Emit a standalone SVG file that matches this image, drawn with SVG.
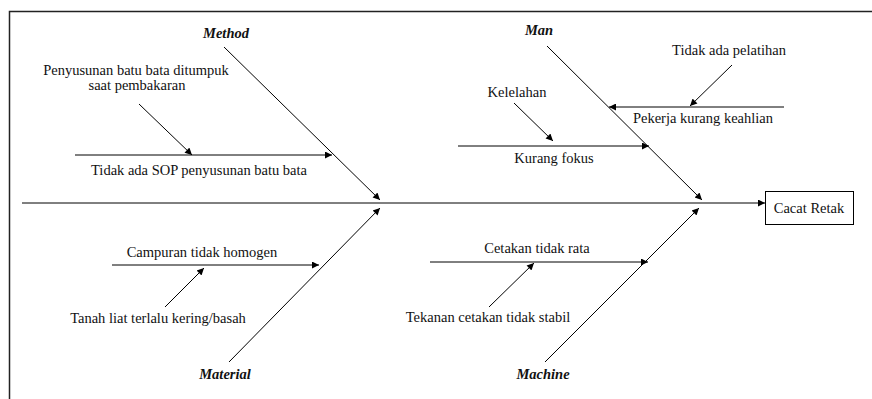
<svg xmlns="http://www.w3.org/2000/svg" width="872" height="399" viewBox="0 0 872 399">
  <defs>
    <marker id="arrow" viewBox="0 0 10 10" refX="10" refY="5" markerWidth="9" markerHeight="7" markerUnits="userSpaceOnUse" orient="auto">
      <path d="M0,0 L10,5 L0,10 z" fill="#000"/>
    </marker>
    <style>
      .ln { stroke: #000; stroke-width: 1; fill: none; }
      .arr { marker-end: url(#arrow); }
      text { font-family: "Liberation Serif", "Times New Roman", serif; font-size: 14.5px; fill: #111; }
      .cat { font-weight: bold; font-style: italic; }
      .mid { text-anchor: middle; }
    </style>
  </defs>

  <!-- frame -->
  <path d="M9.5,399 L9.5,11.5 L872,11.5" stroke="#222" stroke-width="1.5" fill="none"/>

  <g id="connectors">
    <!-- spine -->
    <line class="ln arr" x1="22" y1="203" x2="765" y2="203"/>
    <!-- main bones -->
    <line class="ln arr" x1="224" y1="47" x2="380" y2="200"/>
    <line class="ln arr" x1="547" y1="46" x2="702" y2="200"/>
    <line class="ln arr" x1="229" y1="362" x2="380" y2="208"/>
    <line class="ln arr" x1="545" y1="362" x2="699" y2="208"/>
    <!-- Method causes -->
    <line class="ln arr" x1="75" y1="155" x2="332" y2="155"/>
    <line class="ln arr" x1="139" y1="104" x2="192" y2="155"/>
    <!-- Man causes -->
    <line class="ln arr" x1="784" y1="107" x2="609" y2="107"/>
    <line class="ln arr" x1="732" y1="65" x2="690" y2="106"/>
    <line class="ln arr" x1="458" y1="146" x2="649" y2="146"/>
    <line class="ln arr" x1="514" y1="103" x2="553" y2="141"/>
    <!-- Material causes -->
    <line class="ln arr" x1="112" y1="265" x2="319" y2="265"/>
    <line class="ln arr" x1="165" y1="307" x2="204" y2="268"/>
    <!-- Machine causes -->
    <line class="ln arr" x1="430" y1="262" x2="648" y2="262"/>
    <line class="ln arr" x1="489" y1="307" x2="534" y2="263"/>
  </g>

  <g id="effect">
    <rect x="765.5" y="191.5" width="88" height="33" fill="#fff" stroke="#000" stroke-width="1"/>
    <text class="mid" x="809" y="213">Cacat Retak</text>
  </g>

  <g id="method">
    <text class="cat mid" x="226" y="38">Method</text>
    <text class="mid" x="136" y="75">Penyusunan batu bata ditumpuk</text>
    <text class="mid" x="137" y="90">saat pembakaran</text>
    <text class="mid" x="199" y="175">Tidak ada SOP penyusunan batu bata</text>
  </g>

  <g id="man">
    <text class="cat mid" x="539" y="35">Man</text>
    <text class="mid" x="729" y="55">Tidak ada pelatihan</text>
    <text class="mid" x="703" y="123">Pekerja kurang keahlian</text>
    <text class="mid" x="517" y="97">Kelelahan</text>
    <text class="mid" x="554" y="163">Kurang fokus</text>
  </g>

  <g id="material">
    <text class="cat mid" x="225" y="379">Material</text>
    <text class="mid" x="202" y="257">Campuran tidak homogen</text>
    <text class="mid" x="158" y="323">Tanah liat terlalu kering/basah</text>
  </g>

  <g id="machine">
    <text class="cat mid" x="543" y="379">Machine</text>
    <text class="mid" x="537" y="253">Cetakan tidak rata</text>
    <text class="mid" x="488" y="322">Tekanan cetakan tidak stabil</text>
  </g>
</svg>
